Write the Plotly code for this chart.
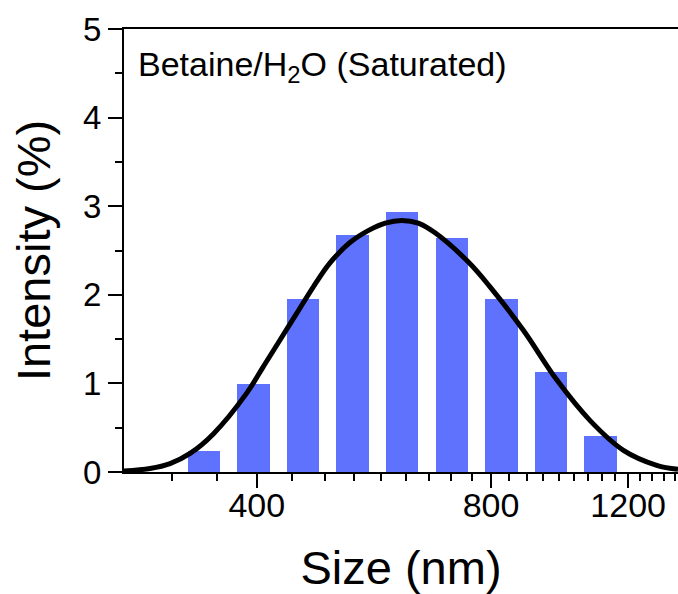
import math
import plotly.graph_objects as go

# ---- data ----
sizes = [342.0, 396.1, 458.7, 531.2, 615.1, 712.4, 825.0, 955.4, 1106.0]          # nm (bin centres)
intensity = [0.24, 0.99, 1.95, 2.68, 2.93, 2.64, 1.95, 1.13, 0.41]              # %

fit_size = [270.1, 291.7, 309.5, 328.4, 351.8, 388.3, 407.9, 428.5, 450.2, 472.9,
            496.8, 527.0, 557.7, 585.0, 614.3, 645.0, 677.9, 748.1, 797.6, 880.2,
            971.6, 1072.4, 1183.4, 1306.0, 1390.8]
fit_int = [0.01, 0.04, 0.095, 0.21, 0.43, 0.89, 1.19, 1.49, 1.79, 2.09,
           2.36, 2.59, 2.73, 2.81, 2.84, 2.81, 2.70, 2.37, 2.09, 1.60,
           1.04, 0.58, 0.245, 0.076, 0.03]

x_major_ticks = [400, 800, 1200]
x_major_labels = ["400", "800", "1200"]
x_minor_ticks = [400 * k / 9 for k in range(7, 32) if k % 9 != 0]
y_major_ticks = [0, 1, 2, 3, 4, 5]
y_minor_ticks = [0.5, 1.5, 2.5, 3.5, 4.5]

x_range = [270.1, 1390.8]
y_range = [0, 5]
bar_width_decades = 0.0418

FONT = "Liberation Sans, Arial, sans-serif"
BAR_COLOR = "#5F72FE"

log_range = [math.log10(x_range[0]), math.log10(x_range[1])]

fig = go.Figure()

# bars on a hidden linear axis in log10 space (base subplot, drawn below curve)
fig.add_trace(go.Bar(
    x=[math.log10(s) for s in sizes], y=intensity,
    width=bar_width_decades,
    marker=dict(color=BAR_COLOR, line=dict(width=0)),
    xaxis="x", yaxis="y", showlegend=False,
))

# fitted curve on the visible log axis
fig.add_trace(go.Scatter(
    x=fit_size, y=fit_int, mode="lines",
    line=dict(color="black", width=5, shape="spline", smoothing=1.0),
    xaxis="x2", yaxis="y", showlegend=False,
))

fig.update_layout(
    width=678, height=594,
    margin=dict(l=124, r=0, t=29, b=122),
    paper_bgcolor="white", plot_bgcolor="white",
    font=dict(family=FONT, color="black"),
    xaxis=dict(
        range=log_range, visible=False, showgrid=False, zeroline=False,
    ),
    xaxis2=dict(
        type="log", range=log_range, overlaying="x", anchor="y", side="bottom",
        showgrid=False, zeroline=False,
        showline=True, linecolor="black", linewidth=2, mirror=True,
        ticks="outside", ticklen=14, tickwidth=2, tickcolor="black",
        tickvals=x_major_ticks, ticktext=x_major_labels,
        tickfont=dict(size=34, family=FONT, color="black"),
        ticklabelstandoff=-12,
        minor=dict(tickvals=x_minor_ticks, ticks="outside", ticklen=7,
                   tickwidth=2, tickcolor="black", showgrid=False),
        title=dict(text="Size (nm)", font=dict(size=47, family=FONT, color="black"),
                   standoff=28),
    ),
    yaxis=dict(
        range=y_range, showgrid=False, zeroline=False,
        showline=True, linecolor="black", linewidth=2,
        ticks="outside", ticklen=14, tickwidth=2, tickcolor="black",
        tickvals=y_major_ticks,
        tickfont=dict(size=33, family=FONT, color="black"),
        minor=dict(tickvals=y_minor_ticks, ticks="outside", ticklen=7,
                   tickwidth=2, tickcolor="black", showgrid=False),
        title=dict(text="Intensity (%)", font=dict(size=47, family=FONT, color="black"),
                   standoff=18),
    ),
    bargap=0,
    annotations=[dict(
        text="Betaine/H<sub>2</sub>O (Saturated)",
        xref="paper", yref="paper", x=0.021, y=0.915,
        xanchor="left", yanchor="middle", showarrow=False,
        font=dict(size=34, family=FONT, color="black"),
    )],
)

fig.write_html("out.html")
